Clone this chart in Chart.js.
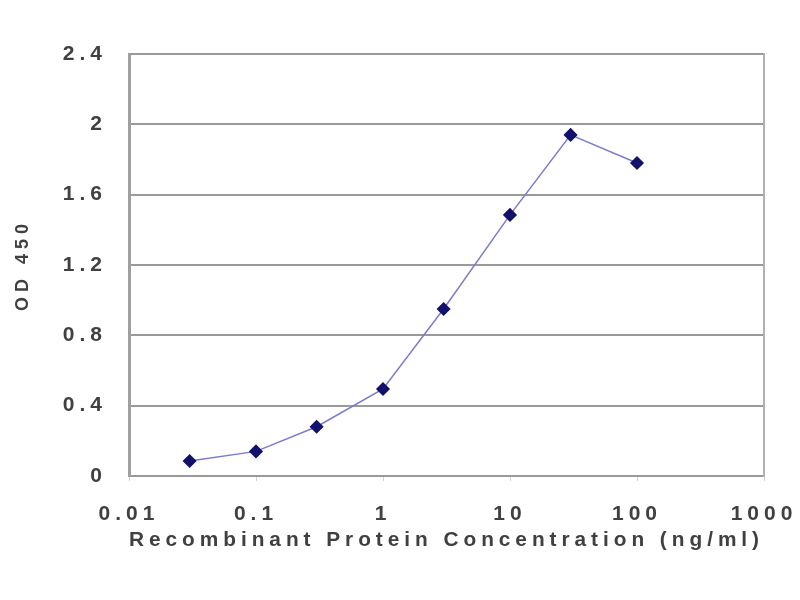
<!DOCTYPE html>
<html><head><meta charset="utf-8">
<script src="https://cdn.jsdelivr.net/npm/chart.js@4"></script>
<style>html,body{margin:0;padding:0;background:#fff}#wrap{width:800px;height:600px}</style>
</head><body><div id="wrap"><canvas id="c" width="800" height="600"></canvas></div>
<script>
const concentrations = [0.03, 0.1, 0.3, 1, 3, 10, 30, 100];
const od450 = [0.085, 0.14, 0.28, 0.495, 0.95, 1.485, 1.94, 1.78];
const xTicks = [0.01, 0.1, 1, 10, 100, 1000];
const xTickLabels = ['0.01', '0.1', '1', '10', '100', '1000'];
const yTicks = [0, 0.4, 0.8, 1.2, 1.6, 2, 2.4];
const yTickLabels = ['0', '0.4', '0.8', '1.2', '1.6', '2', '2.4'];

const fam = '"Liberation Sans", Arial, sans-serif';
const font = {family: fam, size: 21, weight: 'bold'};
const textColor = '#404040';
const gridColor = '#9a9a9a';

const spacing = {
  id: 'spacing',
  beforeDraw(chart) { chart.ctx.letterSpacing = '5px'; }
};

new Chart(document.getElementById('c'), {
  type: 'line',
  data: {
    datasets: [{
      data: concentrations.map((x, i) => ({x: x, y: od450[i]})),
      borderColor: '#7b7bcc',
      borderWidth: 1.5,
      pointStyle: 'rectRot',
      pointRadius: 6,
      pointBackgroundColor: '#12126a',
      pointBorderColor: '#12126a',
      tension: 0,
      fill: false
    }]
  },
  plugins: [spacing],
  options: {
    responsive: false,
    animation: false,
    layout: {padding: {left: 0, right: 36, top: 54, bottom: 47}},
    plugins: {legend: {display: false}, tooltip: {enabled: false}},
    scales: {
      x: {
        type: 'logarithmic',
        min: 0.01, max: 1000,
        afterBuildTicks: s => { s.ticks = xTicks.map(v => ({value: v})); },
        afterFit: s => { s.height = 77; s.paddingLeft = 0; s.paddingRight = 0; },
        ticks: {
          color: textColor, font: font, padding: 21, maxRotation: 0, autoSkip: false,
          callback: (v) => { const i = xTicks.indexOf(v); return i >= 0 ? xTickLabels[i] : ''; }
        },
        grid: {display: true, drawOnChartArea: false, drawTicks: true, tickLength: 5, color: '#d0d0d0'},
        border: {display: true, color: gridColor, width: 2},
        title: {display: true, text: 'Recombinant Protein Concentration (ng/ml)', color: textColor, font: font, padding: {top: 0, bottom: 0}}
      },
      y: {
        min: 0, max: 2.4,
        afterBuildTicks: s => { s.ticks = yTicks.map(v => ({value: v})); },
        afterFit: s => { s.width = 129; },
        ticks: {
          color: textColor, font: font, padding: 22,
          callback: (v) => { const i = yTicks.findIndex(t => Math.abs(t - v) < 1e-9); return i >= 0 ? yTickLabels[i] : ''; }
        },
        grid: {color: gridColor, lineWidth: 2, drawTicks: false},
        border: {display: true, color: '#a0a0a0', width: 3},
        title: {display: true, text: 'OD 450', color: textColor, font: {family: fam, size: 18, weight: 'bold'}, padding: {top: 12, bottom: 6}}
      },
      yR: {
        position: 'right',
        min: 0, max: 2.4,
        afterFit: s => { s.width = 0; },
        ticks: {display: false},
        grid: {display: false},
        border: {display: true, color: '#b0b0b0', width: 2}
      }
    }
  }
});
</script>
</body></html>
